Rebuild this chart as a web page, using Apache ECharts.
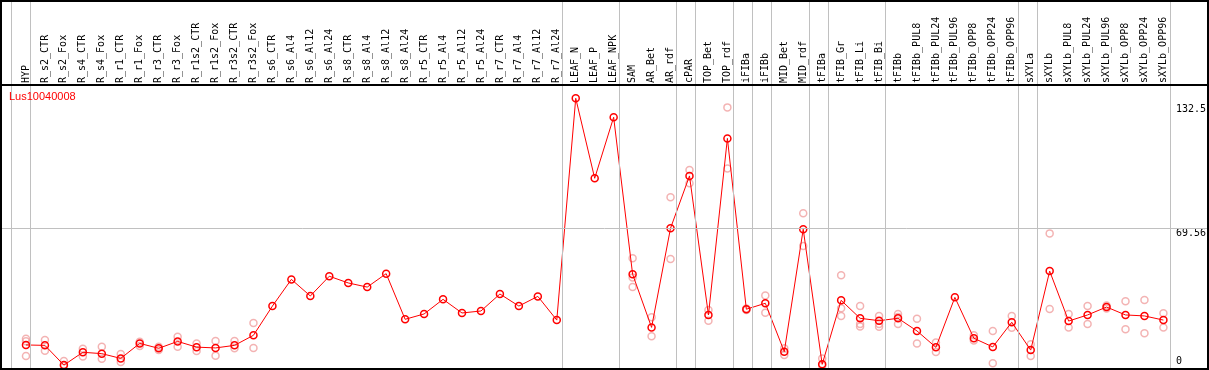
<!DOCTYPE html>
<html>
<head>
<meta charset="utf-8">
<script src="https://cdn.jsdelivr.net/npm/echarts@6/dist/echarts.min.js"></script>
<style>
html,body{margin:0;padding:0;background:#fff;}
#c{width:1209px;height:370px;}
</style>
</head>
<body>
<div id="c"></div>
<script>
const chartTitle = 'Lus10040008';
const categories = ['HYP','R_s2_CTR','R_s2_Fox','R_s4_CTR','R_s4_Fox','R_r1_CTR','R_r1_Fox','R_r3_CTR','R_r3_Fox','R_r1s2_CTR','R_r1s2_Fox','R_r3s2_CTR','R_r3s2_Fox','R_s6_CTR','R_s6_Al4','R_s6_Al12','R_s6_Al24','R_s8_CTR','R_s8_Al4','R_s8_Al12','R_s8_Al24','R_r5_CTR','R_r5_Al4','R_r5_Al12','R_r5_Al24','R_r7_CTR','R_r7_Al4','R_r7_Al12','R_r7_Al24','LEAF_N','LEAF_P','LEAF_NPK','SAM','AR_Bet','AR_rdf','cPAR','TOP_Bet','TOP_rdf','iFIBa','iFIBb','MID_Bet','MID_rdf','tFIBa','tFIB_Gr','tFIB_Li','tFIB_Bi','tFIBb','tFIBb_PUL8','tFIBb_PUL24','tFIBb_PUL96','tFIBb_OPP8','tFIBb_OPP24','tFIBb_OPP96','sXYLa','sXYLb','sXYLb_PUL8','sXYLb_PUL24','sXYLb_PUL96','sXYLb_OPP8','sXYLb_OPP24','sXYLb_OPP96'];
const meanValues = [10.5,10.3,0.3,6.8,6.1,3.7,11.3,8.8,12.3,9.4,9.0,10.3,15.4,30.2,43.7,35.3,45.3,41.9,39.8,46.6,23.5,26.2,33.6,26.7,27.7,36.3,30.2,35.1,23.1,135.4,94.9,125.8,46.3,19.4,69.6,96.1,25.7,115.1,28.6,31.6,7.1,69.1,0.7,33.1,24.0,22.8,24.0,17.6,9.3,34.6,13.9,9.5,22.0,7.9,47.9,22.6,25.7,29.7,25.7,25.2,23.1];
const replicates = [
  [13.7,12.4,4.9],[13.0,7.6],[2.4,0.0],[8.6,4.6],[9.6,3.5],[5.9,1.9],[12.1,10.0],[9.6,7.9],[14.7,9.6],[11.3,7.4],[12.5,5.1],[12.5,8.8],[21.6,9.0],
  [],[],[],[],[],[],[],[],[],[],[],[],[],[],[],[],
  [],[],[],
  [54.4,44.6,39.8],[24.5,14.9],[85.3,54.0],[99.1,92.4],[28.2,22.8],[130.8,99.9],[29.0,28.2],[35.6,26.8],[8.8,5.4],[77.2,60.6],
  [3.7,0.0],[45.8,29.1,25.2],[30.2,21.1,19.9],[25.2,21.1,19.7],[26.2,21.1,24.6],[23.8,11.3],[11.8,6.9],[],[15.4,12.7],[17.6,1.2],[25.2,19.2],
  [10.8,4.9],[67.0,28.7],[26.2,19.4],[30.2,21.1],[30.5,29.0],[32.6,18.4],[33.3,16.4],[26.5,19.4]
];
const groupEnds = ['HYP','R_r7_Al24','LEAF_NPK','AR_rdf','cPAR','TOP_rdf','iFIBa','iFIBb','MID_rdf','tFIBa','tFIB_Bi','tFIBb_OPP96','sXYLa','sXYLb_OPP96'];
const yTickLabels = [69.56, 132.5];
const yZeroLabel = [0];
const gridLineValue = 69.56;

const mono = 'DejaVu Sans Mono';
const repData = [];
replicates.forEach((arr, i) => arr.forEach(v => repData.push([i, v])));
const sepIdx = [-1].concat(groupEnds.map(n => categories.indexOf(n)));
const markData = sepIdx.map(i => ({xAxis: i + 0.24})).concat([{yAxis: gridLineValue}]);

const Y_MIN = -1.67, Y_MAX = 142.13;
const chart = echarts.init(document.getElementById('c'), null, {renderer: 'canvas'});
chart.setOption({
  animation: false,
  backgroundColor: '#fff',
  title: {
    text: chartTitle, left: 9, top: 91, padding: 0,
    textStyle: {color: '#ff0000', fontSize: 11, fontWeight: 'normal', fontFamily: 'Liberation Sans'}
  },
  grid: [
    {left: 16.5, right: 33.5, top: 85, bottom: 1},
    {left: 0, right: 0, top: 0, bottom: 1}
  ],
  xAxis: [
    {
      type: 'category', gridIndex: 0, data: categories, position: 'top', boundaryGap: true,
      axisLine: {show: false}, axisTick: {show: false}, splitLine: {show: false},
      axisLabel: {interval: 0, rotate: 90, margin: 2, fontFamily: mono, fontSize: 10, color: '#000'}
    },
    {type: 'value', gridIndex: 1, min: -26/19, max: (1209-26)/19, show: false}
  ],
  yAxis: [
    {
      type: 'value', gridIndex: 0, position: 'right', min: Y_MIN, max: Y_MAX,
      axisLine: {show: false}, axisTick: {show: false}, splitLine: {show: false},
      axisLabel: {customValues: yTickLabels, verticalAlign: 'top', margin: 3, fontFamily: mono, fontSize: 10, color: '#000'}
    },
    {
      type: 'value', gridIndex: 0, position: 'right', min: Y_MIN, max: Y_MAX,
      axisLine: {show: false}, axisTick: {show: false}, splitLine: {show: false},
      axisLabel: {customValues: yZeroLabel, verticalAlign: 'bottom', lineHeight: 8, margin: 3, fontFamily: mono, fontSize: 10, color: '#000'}
    },
    {type: 'value', gridIndex: 1, min: Y_MIN, max: (365.7)/1.975, show: false}
  ],
  series: [
    {
      type: 'line', xAxisIndex: 1, yAxisIndex: 2, data: [], silent: true,
      markLine: {
        silent: true, symbol: ['none', 'none'], label: {show: false},
        lineStyle: {color: '#c0c0c0', width: 1, type: 'solid'},
        data: markData
      }
    },
    {
      type: 'scatter', xAxisIndex: 0, yAxisIndex: 0, data: repData, z: 3,
      symbol: 'circle', symbolSize: 7,
      itemStyle: {color: 'rgba(0,0,0,0)', borderColor: '#f0a0a0', borderWidth: 1.5}
    },
    {
      type: 'line', xAxisIndex: 0, yAxisIndex: 0, data: meanValues, z: 4,
      symbol: 'circle', symbolSize: 7, showSymbol: true,
      lineStyle: {color: '#ff0000', width: 1},
      itemStyle: {color: 'rgba(0,0,0,0)', borderColor: '#ff0000', borderWidth: 1.5}
    }
  ],
  graphic: [
    {type: 'rect', shape: {x: 1, y: 1, width: 1207, height: 368}, style: {fill: 'none', stroke: '#000', lineWidth: 2}, z: 100, silent: true},
    {type: 'line', shape: {x1: 0, y1: 85, x2: 1209, y2: 85}, style: {stroke: '#000', lineWidth: 2}, z: 100, silent: true}
  ]
});
</script>
</body>
</html>
